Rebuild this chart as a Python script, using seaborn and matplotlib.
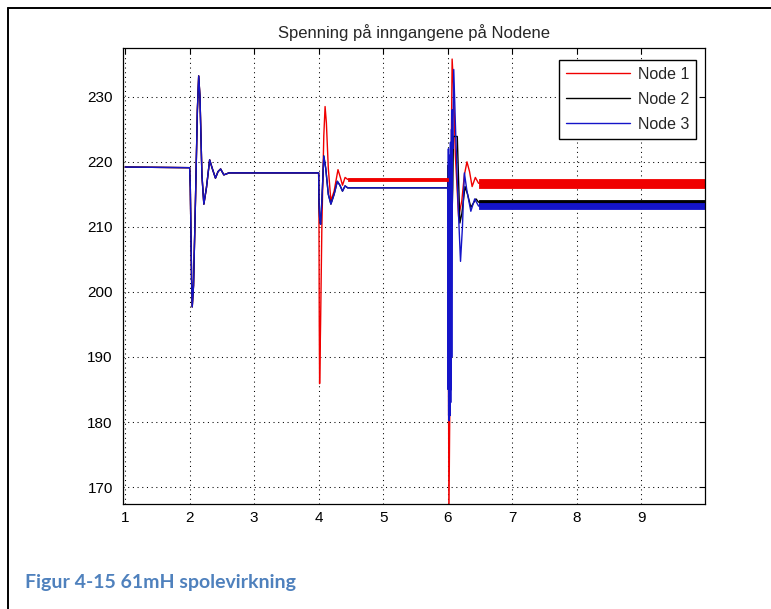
import matplotlib
matplotlib.use("Agg")
import matplotlib.pyplot as plt
from matplotlib.lines import Line2D
import pandas as pd
import seaborn as sns

# ---- data ---------------------------------------------------------------
# all three nodes share the same voltage up to t = 4
t_common = [1.00, 2.00, 2.01, 2.03, 2.04, 2.06, 2.09, 2.12, 2.14, 2.16, 2.19,
            2.22, 2.26, 2.31, 2.35, 2.40, 2.44, 2.48, 2.53, 2.61, 4.00]
v_common = [219.2, 219.1, 216.0, 202.0, 197.7, 201.0, 214.0, 228.0, 233.2, 230.0, 218.0,
            213.5, 216.0, 220.3, 219.0, 217.5, 218.5, 218.9, 218.0, 218.3, 218.3]

# node 1 from t = 4 to 6
n1_t4 = [4.005, 4.01, 4.015, 4.03, 4.05, 4.08, 4.10, 4.12, 4.15, 4.19, 4.24,
         4.30, 4.34, 4.37, 4.41, 4.45, 6.00]
n1_v4 = [212.0, 195.0, 185.9, 195.0, 210.0, 224.0, 228.5, 226.0, 219.0, 214.0, 215.5,
         218.8, 217.5, 216.4, 217.6, 217.3, 217.3]

# nodes 2 and 3 from t = 4 to 6
n3_t4 = [4.005, 4.015, 4.03, 4.05, 4.08, 4.11, 4.15, 4.19, 4.24, 4.29, 4.33,
         4.37, 4.41, 4.45, 6.00]
n3_v4 = [214.0, 211.5, 210.4, 214.0, 220.9, 219.0, 215.0, 213.5, 215.0, 217.0, 216.4,
         215.5, 216.3, 216.0, 216.0]

# after t = 6
n1_t6 = [6.005, 6.01, 6.02, 6.04, 6.06, 6.07, 6.09, 6.12, 6.17, 6.22, 6.26,
         6.30, 6.34, 6.38, 6.43, 6.48, 10.0]
n1_v6 = [214.0, 200.0, 165.0, 190.0, 225.0, 235.8, 232.0, 221.0, 211.6, 214.0, 218.0,
         220.0, 218.5, 216.2, 217.6, 216.7, 216.7]

n2_t6 = [6.005, 6.01, 6.02, 6.03, 6.04, 6.05, 6.06, 6.08, 6.09, 6.15, 6.19,
         6.22, 6.27, 6.31, 6.36, 6.44, 6.48, 10.0]
n2_v6 = [214.0, 219.5, 208.8, 219.0, 207.0, 218.0, 209.0, 216.0, 223.9, 223.9, 210.6,
         212.0, 216.2, 215.0, 213.0, 214.3, 213.8, 213.8]

n3_t6 = [6.004, 6.008, 6.012, 6.016, 6.020, 6.024, 6.028, 6.032, 6.036, 6.040,
         6.044, 6.048, 6.052, 6.056, 6.060, 6.064, 6.070, 6.080, 6.095, 6.12,
         6.16, 6.20, 6.23, 6.26, 6.30, 6.36, 6.42, 6.48, 10.0]
n3_v6 = [215.5, 185.0, 222.0, 181.0, 220.0, 180.2, 221.0, 182.0, 219.0, 181.0,
         223.0, 183.0, 221.0, 185.0, 225.0, 190.0, 228.0, 222.0, 234.2, 226.0,
         214.0, 204.7, 210.0, 218.3, 215.5, 212.4, 214.3, 213.2, 213.2]

# ripple envelopes of the steady states: (node, t_start, t_end, low, high)
ripple_bands = [
    ("Node 1", 4.45, 6.00, 217.1, 217.55),
    ("Node 1", 6.48, 10.0, 216.05, 217.35),
    ("Node 2", 6.48, 10.0, 213.4, 214.2),
    ("Node 3", 6.48, 10.0, 212.75, 213.6),
]

nodes = ["Node 1", "Node 2", "Node 3"]
colors = {"Node 1": "#f00000", "Node 2": "#000000", "Node 3": "#1414c8"}
x_ticks = [1, 2, 3, 4, 5, 6, 7, 8, 9]
y_ticks = [170, 180, 190, 200, 210, 220, 230]

series = {
    "Node 1": (t_common + n1_t4 + n1_t6, v_common + n1_v4 + n1_v6),
    "Node 2": (t_common + n3_t4 + n2_t6, v_common + n3_v4 + n2_v6),
    "Node 3": (t_common + n3_t4 + n3_t6, v_common + n3_v4 + n3_v6),
}
df = pd.concat(
    [pd.DataFrame({"t": t, "V": v, "Node": name}) for name, (t, v) in series.items()],
    ignore_index=True,
)

# ---- figure -------------------------------------------------------------
sns.set_theme(style="white")
plt.rcParams["font.family"] = ["Liberation Sans", "DejaVu Sans"]

fig = plt.figure(figsize=(7.71, 6.09), dpi=100)
fig.patch.set_facecolor("white")
ax = fig.add_axes([0.159, 0.1724, 0.7553, 0.7488])
ax.set_facecolor("white")

for name, t0, t1, lo, hi in ripple_bands:
    ax.fill_between([t0, t1], [lo, lo], [hi, hi], color=colors[name], lw=0.6, zorder=2.5)

sns.lineplot(data=df, x="t", y="V", hue="Node", hue_order=nodes, palette=colors,
             estimator=None, sort=False, lw=1.0, ax=ax, legend=True)

ax.set_xlim(0.96, 9.99)
ax.set_ylim(167.4, 237.5)
ax.set_xticks(x_ticks)
ax.set_yticks(y_ticks)
ax.set_xlabel("")
ax.set_ylabel("")

ax.grid(True, color="black", linestyle=(0, (1, 3.5)), linewidth=0.75)
ax.set_axisbelow(True)
for sp in ax.spines.values():
    sp.set_color("black")
    sp.set_linewidth(0.9)
    sp.set_visible(True)
ax.tick_params(direction="in", length=4, width=0.8, colors="black",
               top=True, right=True, labelsize=11)
ax.tick_params(axis="y", pad=7)
ax.tick_params(axis="x", pad=5)

ax.set_title("Spenning på inngangene på Nodene", fontsize=12, pad=7)

handles, labels = ax.get_legend_handles_labels()
leg = ax.legend(handles, labels, loc="upper right", bbox_to_anchor=(0.985, 0.974),
                borderaxespad=0, fancybox=False, framealpha=1, edgecolor="black",
                fontsize=11.5, handlelength=4.0, handletextpad=0.5,
                labelspacing=0.62, borderpad=0.45)
leg.get_frame().set_linewidth(1.0)

# caption and page frame
fig.text(25 / 771, 1 - 588 / 609, "Figur 4-15 61mH spolevirkning", color="#4f81bd",
         fontweight="bold", fontsize=14, family=["Lato", "DejaVu Sans"], va="baseline")
fig.add_artist(Line2D([8 / 771, 8 / 771], [0, 1 - 8 / 609], transform=fig.transFigure,
                      color="black", lw=1.4))
fig.add_artist(Line2D([8 / 771, 1], [1 - 8 / 609, 1 - 8 / 609], transform=fig.transFigure,
                      color="black", lw=1.4))

fig.savefig("out.png", dpi=100)
